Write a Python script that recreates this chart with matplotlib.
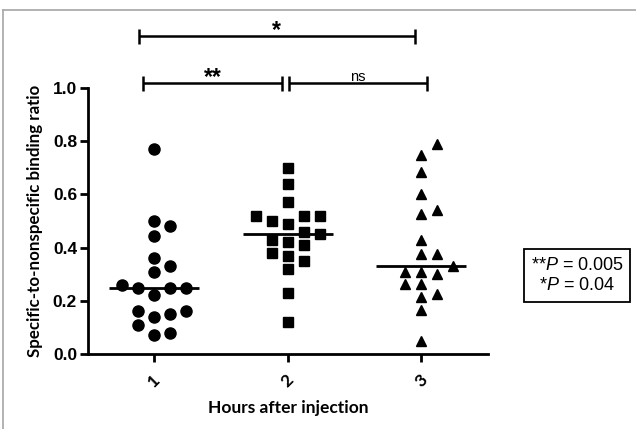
import numpy as np
import matplotlib
matplotlib.use("Agg")
import matplotlib.pyplot as plt
from matplotlib.lines import Line2D
from matplotlib.patches import Rectangle

# ---------------- data ----------------
groups = ["1", "2", "3"]
hour1 = [0.77, 0.50, 0.48, 0.445, 0.36, 0.33, 0.31, 0.26, 0.25, 0.25, 0.25,
         0.22, 0.16, 0.15, 0.16, 0.14, 0.11, 0.07, 0.08]
hour2 = [0.70, 0.64, 0.57, 0.52, 0.52, 0.52, 0.49, 0.50, 0.45, 0.46, 0.42,
         0.41, 0.43, 0.37, 0.38, 0.35, 0.32, 0.23, 0.12]
hour3 = [0.79, 0.75, 0.685, 0.60, 0.525, 0.54, 0.43, 0.375, 0.375, 0.31, 0.30,
         0.33, 0.31, 0.265, 0.265, 0.225, 0.215, 0.165, 0.05]
series = [hour1, hour2, hour3]
markers = ["o", "s", "^"]
y_ticks = [0.0, 0.2, 0.4, 0.6, 0.8, 1.0]
y_ticklabels = ["0.0", "0.2", "0.4", "0.6", "0.8", "1.0"]
# significance brackets: (x_start, x_end, height, label)
brackets = [(0.915, 1.96, 1.018, "**"),
            (2.01, 3.045, 1.018, "ns"),
            (0.885, 2.95, 1.195, "*")]
pvalue_lines = [r"**$\mathit{P}$ = 0.005", r"*$\mathit{P}$ = 0.04"]

plt.rcParams["mathtext.fontset"] = "custom"
plt.rcParams["mathtext.rm"] = "Liberation Sans"
plt.rcParams["mathtext.it"] = "Liberation Sans:italic"

W, H = 636, 429
fig = plt.figure(figsize=(W / 100, H / 100), dpi=100)

def fx(px):
    return px / W

def fy(py):
    return 1 - py / H

# outer gray frame (top and left visible)
fig.add_artist(Line2D([fx(3), fx(3)], [fy(10), 0], color="#a6a6a6", lw=1.2))
fig.add_artist(Line2D([fx(3), 1], [fy(10), fy(10)], color="#a6a6a6", lw=1.2))

ax_l, ax_r, ax_t, ax_b = 87.5, 488, 88, 354
ax = fig.add_axes([fx(ax_l), fy(ax_b), fx(ax_r - ax_l), (ax_b - ax_t) / H])
ax.set_xlim(0.5, 3.5)
ax.set_ylim(0, 1.0)

# swarm layout (greedy, grid slots) computed in display space
slot_px = 16.0
diam_px = 11.0
x_per_px = 1.0 / (ax.transData.transform((1, 0))[0] - ax.transData.transform((0, 0))[0])
y_per_px = 1.0 / (ax.transData.transform((0, 1))[1] - ax.transData.transform((0, 0))[1])
order = [0, 1, -1, 2, -2, 3, -3, 4, -4]

for gi, vals in enumerate(series):
    vals = np.asarray(vals, dtype=float)
    ypx = ax.transData.transform(np.column_stack([np.zeros_like(vals), vals]))[:, 1]
    idx = np.argsort(vals)
    placed = {}
    offs = np.zeros_like(vals)
    for i in idx:
        for s in order:
            if all(abs(ypx[i] - yy) >= diam_px for yy in placed.get(s, [])):
                placed.setdefault(s, []).append(ypx[i])
                offs[i] = s
                break
    xs = gi + 1 + offs * slot_px * x_per_px
    ax.plot(xs, vals, linestyle="none", marker=markers[gi],
            markersize=[8, 7.8, 7.6][gi], color="black", clip_on=False, zorder=3)
    med = np.median(vals)
    half = 45 * x_per_px
    ax.plot([gi + 1 - half, gi + 1 + half], [med, med], color="black", lw=2.0,
            solid_capstyle="butt", zorder=4)

for sp in ["top", "right"]:
    ax.spines[sp].set_visible(False)
for sp in ["left", "bottom"]:
    ax.spines[sp].set_linewidth(2.0)

ax.set_yticks(y_ticks)
ax.set_yticklabels(y_ticklabels, fontfamily="Liberation Sans", fontweight="bold", fontsize=12.5)
ax.set_xticks([1, 2, 3])
ax.set_xticklabels(groups, fontfamily="Lato", fontweight="bold", fontsize=12.5, rotation=45)
ax.tick_params(axis="y", length=6, width=2, pad=1.5)
ax.tick_params(axis="x", length=6, width=2, pad=7)

ax.set_ylabel("Specific-to-nonspecific binding ratio", fontfamily="Lato", fontweight="bold",
              fontsize=12.2, labelpad=7)
ax.set_xlabel("Hours after injection", fontfamily="Lato", fontweight="bold", fontsize=12.5,
              labelpad=7)

# significance brackets
tick_h = 0.028
for x0, x1, yb, lab in brackets:
    ax.plot([x0, x1], [yb, yb], color="black", lw=1.8, clip_on=False, solid_capstyle="butt")
    for xe in (x0, x1):
        ax.plot([xe, xe], [yb - tick_h, yb + tick_h], color="black", lw=1.8,
                clip_on=False, solid_capstyle="butt")
    if lab == "ns":
        ax.text((x0 + x1) / 2, yb + 2 * y_per_px, lab, ha="center", va="baseline",
                fontfamily="Liberation Sans", fontsize=10.5)
    else:
        ax.text((x0 + x1) / 2, yb - 1 * y_per_px, lab, ha="center", va="baseline",
                fontfamily="Liberation Sans", fontsize=16.5, fontweight="bold")

# p-value box
bx0, by0, bx1, by1 = 524, 249, 630, 302
fig.add_artist(Rectangle((fx(bx0), fy(by1)), fx(bx1 - bx0), (by1 - by0) / H,
                         fill=False, edgecolor="black", lw=1.3))
fig.text(fx(577), fy(266), pvalue_lines[0], ha="center", va="center",
         fontfamily="Liberation Sans", fontsize=13)
fig.text(fx(577), fy(285.5), pvalue_lines[1], ha="center", va="center",
         fontfamily="Liberation Sans", fontsize=13)

fig.savefig("out.png", dpi=100)
